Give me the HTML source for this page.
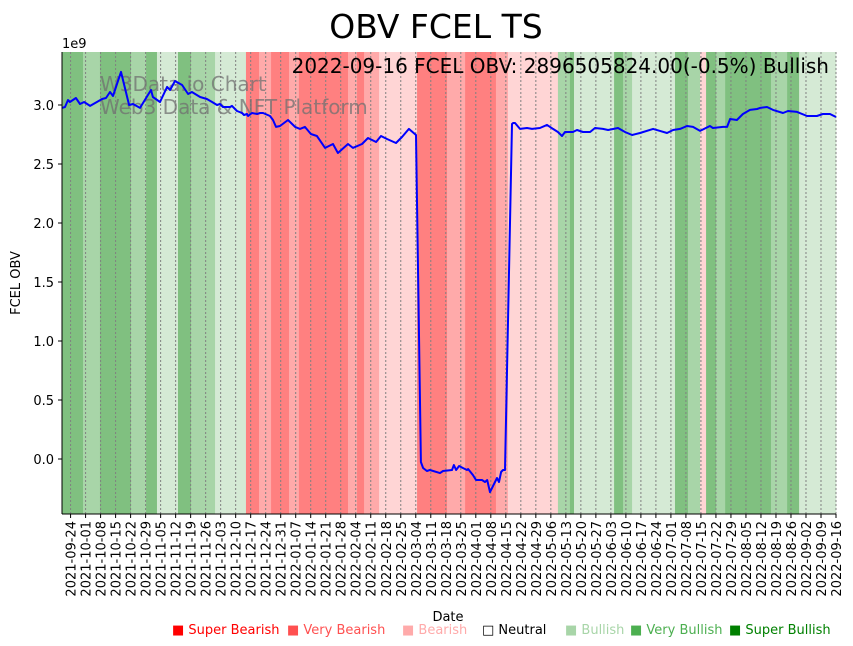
<!DOCTYPE html>
<html><head><meta charset="utf-8"><style>
body{margin:0;background:#fff;font-family:"DejaVu Sans","Liberation Sans",sans-serif;}
svg{display:block}
</style></head><body>
<svg id="chart" width="853" height="646" xmlns="http://www.w3.org/2000/svg" font-family="DejaVu Sans, Liberation Sans, sans-serif">
<text x="436" y="38" font-size="33" text-anchor="middle">OBV FCEL TS</text>
<g id="bands"></g>
<g id="grid"></g>
<g fill="#707070" fill-opacity="0.75" font-size="20">
<text x="100" y="91">W3Data.io Chart</text><text x="100" y="114">Web3 Data &amp; NFT Platform</text></g>
<path id="line" fill="none" stroke="#0000ff" stroke-width="2" stroke-linejoin="round"/>
<text x="829" y="73" font-size="20" text-anchor="end">2022-09-16 FCEL OBV: 2896505824.00(-0.5%) Bullish</text>
<g id="axes"></g>
<text x="62" y="48" font-size="13">1e9</text>
<text x="448" y="621" font-size="13" text-anchor="middle">Date</text>
<text x="20" y="283" font-size="13" text-anchor="middle" transform="rotate(-90 20 283)">FCEL OBV</text>
<g id="legend" font-size="13"></g>
</svg>
<script>
// data: day offset from 2021-09-20, OBV value in 1e9
const days=[0,1.4,2.8,3.7,6.5,8.4,10.3,13.1,16.3,18.7,20.5,22.4,23.8,27.5,31.3,33.1,36.4,41.5,42.4,45.7,49.0,50.4,52.7,56.0,58.8,60.6,64.4,67.6,70.0,72.3,73.7,75.1,78.4,79.3,81.6,84.0,84.9,86.3,86.8,88.6,91.0,92.4,93.8,97.0,98.4,99.8,101.7,105.4,108.7,111.0,113.3,116.1,118.9,122.7,126.4,128.7,133.4,135.7,139.9,142.7,146.5,148.8,151.6,155.8,158.6,161.8,165.1,167.4,168.4,170.2,171.6,176.3,177.7,181.9,182.8,183.8,185.2,187.0,188.9,189.4,191.7,193.1,195.9,197.3,198.3,199.6,202.9,203.8,204.8,205.7,206.6,209.9,210.4,211.3,213.6,216.9,219.2,222.9,226.2,229.0,231.3,233.2,234.6,238.3,240.2,243.0,246.3,248.6,252.3,254.7,259.3,262.6,265.9,269.6,275.7,278.9,282.2,285.0,288.3,291.5,294.3,297.6,302.2,303.6,308.3,310.2,311.6,314.8,317.6,320.9,324.2,325.6,328.8,331.6,336.3,338.6,342.8,347.5,352.1,354.9,358.2,361];
const obv=[2.975,2.983,3.042,3.025,3.059,3.008,3.025,2.992,3.025,3.051,3.059,3.110,3.076,3.280,3.0,3.008,2.975,3.127,3.068,3.025,3.153,3.127,3.203,3.169,3.093,3.110,3.068,3.051,3.025,3.0,3.008,2.983,2.983,2.992,2.949,2.932,2.915,2.924,2.907,2.932,2.924,2.932,2.932,2.907,2.873,2.814,2.822,2.873,2.814,2.797,2.814,2.754,2.737,2.636,2.669,2.593,2.669,2.636,2.669,2.720,2.686,2.737,2.712,2.678,2.729,2.797,2.746,-0.025,-0.076,-0.102,-0.093,-0.119,-0.102,-0.093,-0.051,-0.093,-0.059,-0.076,-0.093,-0.085,-0.136,-0.178,-0.178,-0.195,-0.178,-0.280,-0.161,-0.195,-0.110,-0.093,-0.093,2.839,2.847,2.847,2.797,2.805,2.797,2.805,2.831,2.797,2.771,2.737,2.771,2.771,2.788,2.771,2.771,2.805,2.797,2.788,2.805,2.771,2.746,2.763,2.797,2.780,2.763,2.788,2.797,2.822,2.814,2.780,2.822,2.805,2.814,2.814,2.881,2.873,2.924,2.958,2.966,2.975,2.983,2.958,2.932,2.949,2.941,2.907,2.907,2.924,2.924,2.898];
const bandStart=[0,9.8,17.7,32.2,39.2,44.3,54.1,60.2,71.4,85.8,91.9,97.5,105.9,110.5,133.4,137.6,140.9,147.9,165.6,179.6,188.0,202.4,208.0,231.3,236.9,238.8,257.5,261.7,265.9,285.9,292.0,297.6,300.4,305.1,309.3,330.7,338.2,343.8];
const bandLevel=[3,2,3,2,3,1,3,2,1,-3,-2,-3,-2,-3,-2,-3,-2,-1,-3,-2,-3,-2,-1,2,3,1,3,2,1,3,2,-1,3,2,3,2,3,1];
const yTicks=[0,0.5,1.0,1.5,2.0,2.5,3.0];
const legendLabels=["Super Bearish","Very Bearish","Bearish","Neutral","Bullish","Very Bullish","Super Bullish"];
const legendColors=["#ff0000","#ff5050","#ffaaaa","#000000","#a8d5a8","#4caf50","#008000"];

const X0=62,X1=836,Y0=52,Y1=514,D0=0,D1=361,V0=-0.466,V1=3.449;
const xs=d=>X0+(d-D0)/(D1-D0)*(X1-X0);
const ys=v=>Y1-(v-V0)/(V1-V0)*(Y1-Y0);
const NS="http://www.w3.org/2000/svg";
const mk=(t,a,p)=>{const e=document.createElementNS(NS,t);for(const k in a)e.setAttribute(k,a[k]);p.appendChild(e);return e;};
const colors={"-3":"#ff8080","-2":"#ffaaaa","-1":"#ffd5d5","1":"#d5ead5","2":"#a8d5a8","3":"#80c080"};
const bg=document.getElementById('bands');
bandStart.forEach((s,i)=>{const e=i+1<bandStart.length?bandStart[i+1]:D1;
 const r=mk('rect',{x:xs(s),y:Y0,width:xs(e)-xs(s)+0.3,height:Y1-Y0,fill:colors[bandLevel[i]]},bg);
 
 });
const grid=document.getElementById('grid'),axes=document.getElementById('axes');
const start=new Date(Date.UTC(2021,8,20));
for(let d=4;d<=361;d+=7){const x=xs(d);
 const gl=mk('line',{x1:x,x2:x,y1:Y0,y2:Y1,stroke:'#808080','stroke-dasharray':'2,2','stroke-width':1},grid);
 
 
 mk('line',{x1:x,x2:x,y1:Y1,y2:Y1+4,stroke:'#000'},axes);
 const dt=new Date(start.getTime()+d*864e5);const lab=dt.toISOString().slice(0,10);
 const t=mk('text',{x:x+5,y:Y1+7,'font-size':13,'text-anchor':'end',transform:`rotate(-90 ${x+5} ${Y1+7})`},axes);
 
 
 t.textContent=lab;}
yTicks.forEach(v=>{const y=ys(v);mk('line',{x1:X0-4,x2:X0,y1:y,y2:y,stroke:'#000'},axes);
 const t=mk('text',{x:X0-8,y:y+5,'font-size':13,'text-anchor':'end'},axes);
 
 
 t.textContent=v.toFixed(1);});
mk('line',{x1:X0,x2:X0,y1:Y0,y2:Y1,stroke:'#000'},axes);
mk('line',{x1:X0,x2:X1,y1:Y1,y2:Y1,stroke:'#000'},axes);
document.getElementById('line').setAttribute('d',days.map((d,i)=>(i?'L':'M')+xs(d).toFixed(1)+','+ys(obv[i]).toFixed(1)).join(''));
const lg=document.getElementById('legend');
const lx=[172,287,402,482,565,630,729];
legendLabels.forEach((l,i)=>{const g=mk('g',{},lg);
 
 
 const t=mk('text',{x:lx[i],y:634,fill:legendColors[i]},g);
 t.textContent=(i==3?'\u25A1 ':'\u25A0 ')+l;});
</script>
</body></html>
